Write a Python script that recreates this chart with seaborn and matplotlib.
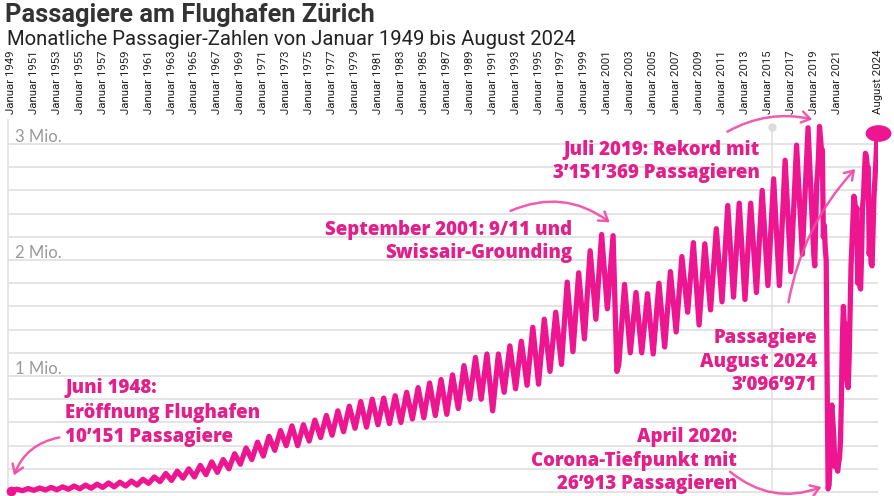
import pandas as pd
import numpy as np
import matplotlib.pyplot as plt
import seaborn as sns
from matplotlib.markers import MarkerStyle
from matplotlib.transforms import Affine2D
from matplotlib.patches import FancyArrowPatch

# Monatliche Passagiere (Mio.): Tiefpunkt Januar / Hochpunkt Juli je Jahr
jahre = list(range(1949, 2019))
tief_januar = [
    0.010, 0.012, 0.015, 0.018, 0.020, 0.024, 0.028, 0.033, 0.040, 0.045,
    0.052, 0.060, 0.075, 0.090, 0.100, 0.120, 0.130, 0.150, 0.170, 0.200,
    0.240, 0.280, 0.310, 0.360, 0.400, 0.400, 0.440, 0.470, 0.490, 0.520,
    0.550, 0.560, 0.580, 0.590, 0.600, 0.630, 0.640, 0.660, 0.670, 0.720,
    0.800, 0.800, 0.700, 0.860, 0.890, 0.920, 0.930, 1.040, 1.100, 1.210,
    1.320, 1.490, 1.580, 1.100, 1.200, 1.200, 1.190, 1.250, 1.380, 1.550,
    1.440, 1.570, 1.640, 1.680, 1.660, 1.720, 1.780, 1.780, 1.900, 2.050,
]
hoch_juli = [
    0.025, 0.030, 0.035, 0.040, 0.045, 0.052, 0.060, 0.068, 0.078, 0.085,
    0.095, 0.110, 0.130, 0.160, 0.180, 0.200, 0.230, 0.260, 0.280, 0.330,
    0.380, 0.430, 0.480, 0.530, 0.570, 0.580, 0.620, 0.660, 0.700, 0.740,
    0.780, 0.800, 0.810, 0.830, 0.860, 0.900, 0.940, 0.970, 1.010, 1.090,
    1.160, 1.190, 1.190, 1.260, 1.300, 1.420, 1.490, 1.550, 1.810, 1.890,
    2.080, 2.220, 2.210, 1.790, 1.720, 1.710, 1.800, 1.900, 2.030, 2.150,
    2.140, 2.270, 2.470, 2.490, 2.490, 2.600, 2.700, 2.860, 2.990, 3.140,
]
# Einbruch nach 9/11 (November 2001)
november_2001 = 1.04

# ab Januar 2019 monatlich bis August 2024
monatswerte_ab_2019 = [
    2.05, 1.95, 2.30, 2.65, 2.75, 2.90, 3.151369, 3.05, 2.95, 2.95, 2.20, 2.30,
    2.10, 2.00, 0.95, 0.026913, 0.06, 0.25, 0.70, 0.75, 0.60, 0.48, 0.22, 0.28,
    0.22, 0.18, 0.25, 0.30, 0.45, 0.85, 1.35, 1.60, 1.40, 1.45, 1.05, 0.95,
    0.90, 1.15, 1.55, 1.95, 2.15, 2.35, 2.55, 2.50, 2.35, 2.45, 1.80, 1.95,
    1.78, 1.75, 2.05, 2.45, 2.55, 2.75, 2.92, 2.90, 2.80, 2.80, 2.05, 2.20,
    1.97, 1.95, 2.25, 2.55, 2.70, 2.85, 3.05, 3.096971,
]

tick_jahre = list(range(1949, 2022, 2))
tick_labels = [f"Januar {j}" for j in tick_jahre] + ["August 2024"]

# Tabelle aufbauen
zeilen = []
for j, lo, hi in zip(jahre, tief_januar, hoch_juli):
    zeilen.append((j, 1, lo))
    zeilen.append((j, 7, hi))
zeilen.append((2001, 11, november_2001))
for i, v in enumerate(monatswerte_ab_2019):
    zeilen.append((2019 + i // 12, i % 12 + 1, v))
df = pd.DataFrame(zeilen, columns=["jahr", "monat", "passagiere"])
df["zeit"] = df["jahr"] + (df["monat"] - 1) / 12
df = df.sort_values("zeit").reset_index(drop=True)

PINK = "#ee1690"
TEXT_PINK = "#e21f8b"
PFEIL = "#f04aa3"

sns.set_style("white")
plt.rcParams["font.family"] = ["Lato", "DejaVu Sans"]

W, H = 894, 496
fig = plt.figure(figsize=(W / 100, H / 100), dpi=100)
ax = fig.add_axes([8 / W, 0, 870 / W, 376 / H])

# Gitter
ax.set_yticks(np.arange(0, 3.01, 0.2))
ax.grid(axis="y", color="#e4e4e4", linewidth=1.4)
ax.grid(axis="x", visible=False)
ax.set_ylim(-0.034, 3.207)
ax.set_xlim(1948.74, 2024.6)
ax.tick_params(axis="y", length=0, labelleft=False)

# hover-Linie
ax.plot([2015.35, 2015.35], [0, 3.15], color="#e2e2e2", lw=1.2, zorder=1)
ax.plot([2015.35], [3.15], marker="o", ms=5, color="#dcdcdc", zorder=1, clip_on=False)

sns.lineplot(data=df, x="zeit", y="passagiere", ax=ax, color=PINK, linewidth=3.8,
             estimator=None, sort=False, solid_joinstyle="round",
             solid_capstyle="round", zorder=3)
ax.plot(df["zeit"].iloc[:1], df["passagiere"].iloc[:1], "o", color=PINK, ms=6,
        clip_on=False, zorder=4)
ellipse = MarkerStyle("o", transform=Affine2D().scale(1.6, 1.0))
ax.plot(df["zeit"].iloc[-1:], df["passagiere"].iloc[-1:], marker=ellipse, ls="none",
        color=PINK, ms=11, clip_on=False, zorder=4)

# x-Achse oben
ax.xaxis.tick_top()
ax.set_xticks([float(j) for j in tick_jahre] + [2024 + 7 / 12])
ax.set_xticklabels(tick_labels, rotation=90, fontsize=8.2, color="#222222",
                   family=["Liberation Sans Narrow", "Roboto", "DejaVu Sans"])
ax.tick_params(axis="x", length=0, pad=4)
ax.set_xlabel("")
ax.set_ylabel("")
for s in ["top", "right", "bottom"]:
    ax.spines[s].set_visible(False)
ax.spines["left"].set_color("#e0e0e0")
ax.spines["left"].set_linewidth(1.2)

for v, txt in [(3, "3 Mio."), (2, "2 Mio."), (1, "1 Mio.")]:
    ax.text(1949.35, v + 0.015, txt, fontsize=12, color="#999999",
            va="baseline", ha="left", zorder=2)

# Titel
fig.text(5 / W, 1 - 22 / H, "Passagiere am Flughafen Zürich", fontsize=18.3,
         fontweight="bold", color="#333333", family=["Roboto", "DejaVu Sans"],
         va="baseline")
fig.text(7 / W, 1 - 45 / H, "Monatliche Passagier-Zahlen von Januar 1949 bis August 2024",
         fontsize=14.6, color="#222222", family=["Roboto", "DejaVu Sans"], va="baseline")


def beschriftung(x, baselines, zeilen_txt, ha):
    for y, t in zip(baselines, zeilen_txt):
        fig.text(x / W, 1 - y / H, t, fontsize=13.4, fontweight="heavy",
                 family=["Open Sans", "DejaVu Sans"],
                 color=TEXT_PINK, ha=ha, va="baseline", zorder=5)


def pfeil(p0, p1, rad):
    a = FancyArrowPatch((p0[0] / W, 1 - p0[1] / H), (p1[0] / W, 1 - p1[1] / H),
                        transform=fig.transFigure, arrowstyle="->,head_length=6,head_width=4",
                        connectionstyle=f"arc3,rad={rad}", color=PFEIL, lw=1.8,
                        alpha=0.9, zorder=5)
    fig.add_artist(a)


beschriftung(65, [393, 418, 442], ["Juni 1948:", "Eröffnung Flughafen", "10’151 Passagiere"], "left")
pfeil((62, 437), (13, 478), 0.3)

beschriftung(572, [235, 258], ["September 2001: 9/11 und", "Swissair-Grounding"], "right")
pfeil((508, 212), (612, 224), -0.3)

beschriftung(760, [155, 178], ["Juli 2019: Rekord mit", "3’151’369 Passagieren"], "right")
pfeil((725, 133), (815, 120), -0.2)

beschriftung(817, [343, 367, 390], ["Passagiere", "August 2024", "3’096’971"], "right")
pfeil((788, 305), (857, 167), -0.15)

beschriftung(737, [442, 466, 489], ["April 2020:", "Corona-Tiefpunkt mit", "26’913 Passagieren"], "right")
pfeil((728, 470), (824, 486), 0.3)

fig.savefig("out.png", dpi=100)
